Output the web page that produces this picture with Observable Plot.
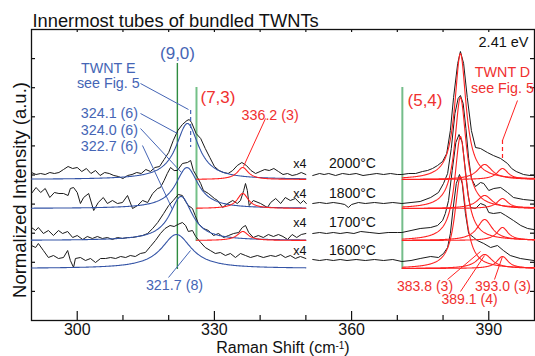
<!DOCTYPE html>
<html><head><meta charset="utf-8">
<script src="https://cdn.jsdelivr.net/npm/d3@7"></script>
<script src="https://cdn.jsdelivr.net/npm/@observablehq/plot@0.6"></script>
<style>
html,body{margin:0;padding:0;background:#fff;}
#chart{width:535px;height:356px;}
</style></head><body><div id="chart"></div>
<script>
// ---------- data ----------
const temps = ["2000°C", "1800°C", "1700°C", "1600°C"];
const baselines = [141, 112, 80, 52];           // vertical offset of each spectrum (a.u.)
const xTicksMajor = [300, 330, 360, 390];
const xTicksAll = [300, 310, 320, 330, 340, 350, 360, 370, 380, 390];
const yTicks = [29.1, 58.2, 87.3, 116.4, 145.5, 174.6, 203.7, 232.8, 261.9];

// measured spectra: [Raman shift, intensity above baseline]
const spec2000L = [[290,7],[291,5],[292,6],[293,5],[294,7],[295,6],[296,7],[297,10],[298,13],[299,11],[300,12],[301,8],[302,11],[303,6],[304,9],[305,4],[306,7],[307,6],[308,4],[309,3],[310,1],[311,4],[312,5],[313,7],[314,6],[315,10],[316,8],[317,12],[318,13],[319,20],[320,27],[321,39],[322,49],[323,55],[324,59],[324.5,60],[325,57],[326,46],[327,41],[328,31],[329,22],[330,13],[331,9],[332,7],[333,6],[334,9],[335,14],[336,17],[337,14],[338,9],[339,6],[340,8],[341,10],[342,9],[343,11],[344,8],[345,5],[346,6],[347,4],[348,5],[349,7],[350,5]];
const spec2000R = [[351.5,4],[353,6],[354,5],[355,6],[356.5,4],[358,6],[359.5,5],[361,6],[362.5,4],[364,5],[365.5,6],[367,5],[368.5,6],[370,5],[371,5],[372.5,6],[374,6],[375.5,8],[376.6,9],[377.7,11],[378.8,14],[379.9,18],[380.8,26],[381.6,49],[382.3,82],[383.2,116],[383.8,128],[384.5,116],[385.3,82],[386.2,49],[387.1,32],[388.2,31],[389.7,27],[391,24],[392.6,21],[394.1,16],[395,11],[396,8],[397.6,5],[399,4],[400,4]];
const spec1800L = [[290,15],[291,21],[292,16],[293,20],[294,11],[295,16],[296,15],[297,15],[298,13],[298.5,20],[299.2,21],[300,16],[300.7,5],[301.4,11],[302.5,15],[303.6,-2],[304.6,6],[305.7,11],[306.6,5],[307.7,8],[308.8,5],[309.9,6],[311,13],[312.1,0],[313.2,3],[314.3,8],[315.4,6],[316.5,15],[317.6,20],[318.2,21],[319,28],[319.7,35],[320.4,41],[321.2,38],[321.9,38],[323,45],[324.1,46],[324.8,48],[325.4,38],[326.3,31],[327,25],[327.6,18],[328.7,15],[330,10],[330.7,8],[331.8,1],[332.9,5],[334,8],[335,5],[335.7,8],[336.4,18],[336.8,25],[337.2,18],[337.6,3],[338.5,8],[340.1,5],[341.6,1],[342.3,6],[343.4,10],[344.5,5],[345.5,11],[346.6,8],[347.7,10],[348.8,5],[349.5,8],[350.1,5]];
const spec1800R = [[351.5,5],[353,6],[354.5,5],[356,6],[357.5,5],[358.5,4],[359.3,1],[360,4],[361.5,6],[363,5],[365,6],[367,5],[369,6],[371,5],[373,6],[375,7],[377.3,11],[379,16],[380.1,25],[381,35],[381.8,60],[382.6,95],[383.3,110],[383.8,113],[384.4,105],[385,80],[385.6,50],[386.2,30],[387.1,22],[388.2,26],[388.9,25],[390,18],[391.1,20],[392.6,21],[394.1,16],[395.4,11],[397.6,9],[399.8,8]];
const spec1700L = [[290,13],[290.9,10],[291.5,13],[292.6,7],[293.7,10],[294.8,5],[295.9,10],[296.8,7],[297.9,9],[299,3],[300,5],[301.2,1],[302.2,4],[303.3,2],[304.4,4],[305.5,2],[306.6,3],[307.7,1],[308.8,3],[309.9,2],[311,3],[312.1,3],[313.2,4],[314.3,5],[315.4,7],[316.5,12],[317.6,18],[318.9,27],[320,35],[321,40],[322.1,46],[323,45],[323.7,39],[324.3,35],[325.2,32],[325.8,25],[326.5,17],[327.6,12],[328.7,10],[329.8,5],[330.9,7],[332,3],[333.1,5],[334.2,7],[335.3,8],[336.1,13],[336.8,15],[337.5,8],[338.5,3],[339.6,5],[340.7,3],[341.8,6],[342.9,4],[344,6],[345,4],[346,1],[347,6],[348,3],[349,6],[350,7]];
const spec1700R = [[351.5,7],[353,8],[354.5,7],[356,8],[357.5,7],[359,8],[360.5,7],[362,9],[364,8],[366,7],[368,8],[370,8],[371,8],[373,10],[375,12],[377.3,13],[378.8,15],[379.9,20],[380.5,27],[381.2,40],[382,70],[382.8,98],[383.5,106],[384.2,98],[384.9,70],[385.5,45],[386,33],[387.1,32],[388.2,37],[389.3,35],[390,28],[391,27],[392.6,28],[393.7,25],[395.4,20],[397,15],[398.5,12],[399.8,11]];
const spec1600L = [[290,23],[290.9,21],[291.5,25],[292.6,18],[293.7,11],[294.8,13],[295.9,10],[297,11],[297.9,18],[298.5,8],[299.2,1],[299.6,10],[300.7,11],[301.8,8],[302.9,10],[304,6],[305.1,10],[306.2,10],[307.3,11],[308.4,10],[309.5,12],[310.6,11],[311.6,13],[312.7,12],[313.8,15],[314.9,16],[316,22],[317.1,28],[318.2,35],[319.2,40],[320.3,43],[321.2,42],[322,44],[323,46],[323.7,43],[324.3,37],[325.2,38],[325.9,32],[327,26],[328,21],[329.1,18],[330.2,15],[331.3,16],[332.4,13],[333.5,15],[334.6,11],[335.7,15],[336.8,13],[337.9,11],[339.4,13],[340.7,11],[342.3,13],[343.4,12],[344.5,14],[345.5,11],[346.6,13],[347.7,10],[348.8,12],[350,10]];
const spec1600R = [[351.5,9],[353,8],[354.5,9],[356,8],[357.5,9],[359,8],[361,9],[363,8],[365,9],[367,8],[369,9],[371,7],[373,8],[375,10],[377.3,12],[379,11],[380.1,15],[381,21],[381.6,35],[382.2,60],[382.9,85],[383.6,94],[384.2,85],[384.9,55],[385.6,35],[386.7,31],[387.5,28],[388.9,25],[390.4,21],[391.9,23],[393.2,18],[394.7,13],[396.9,10],[399.8,8]];

// Lorentzian fit parameters (centre, FWHM, height) per spectrum
const blueCenter = [324.1, 324.0, 322.7, 321.7];
const blueWidth  = [6, 6, 6, 8];
const blueHeight = [56, 41, 44, 34];
const red336Center = 336.2, red336Width = 3;
const red336Height = [12, 15, 9, 0];
const rightCenters = [383.8, 389.1, 393.0];
const rightWidths  = [3, 4, 3];
const rightHeights = [[126, 15, 11], [111, 13, 10], [104, 21, 13], [92, 14, 12]];

// ---------- annotations ----------
const blueLabels = [
  {text: "(9,0)", x: 321.93, y: 267, size: 17, anchor: "middle"},
  {text: "TWNT E", x: 306.8, y: 252, size: 14.3, anchor: "middle"},
  {text: "see Fig. 5", x: 306.8, y: 237, size: 14.3, anchor: "middle"},
  {text: "324.1 (6)", x: 313.3, y: 207, size: 14.3, anchor: "end"},
  {text: "324.0 (6)", x: 313.3, y: 190, size: 14.3, anchor: "end"},
  {text: "322.7 (6)", x: 313.3, y: 174, size: 14.3, anchor: "end"},
  {text: "321.7 (8)", x: 321.27, y: 35, size: 14.3, anchor: "middle"}
];
const redLabels = [
  {text: "(7,3)", x: 326.96, y: 223, size: 17, anchor: "start"},
  {text: "336.2 (3)", x: 335.93, y: 205, size: 14.3, anchor: "start"},
  {text: "TWNT D", x: 393.0, y: 248, size: 14.3, anchor: "middle"},
  {text: "see Fig. 5", x: 393.0, y: 232, size: 14.3, anchor: "middle"},
  {text: "(5,4)", x: 372.23, y: 220, size: 17, anchor: "start"},
  {text: "383.8 (3)", x: 376.06, y: 34, size: 14, anchor: "middle"},
  {text: "393.0 (3)", x: 393.1, y: 34, size: 14, anchor: "middle"},
  {text: "389.1 (4)", x: 385.8, y: 21, size: 14, anchor: "middle"}
];
const blackLabels = [{text: "2.41 eV", x: 398.7, y: 278, size: 14.5, anchor: "end"}];
const tempLabelX = 360.2, tempLabelY = [157, 127, 98, 70], x4LabelX = 348.7;

const blueLeaders = [
  [313.84, 237, 324.33, 211], [313.84, 207, 321.93, 187], [313.84, 192, 322.8, 148],
  [314.27, 175, 320.84, 111], [319.96, 43, 324.77, 70]
];
const redLeaders = [
  [341.17, 202, 336.36, 154], [396.28, 220, 393.0, 180], [380.97, 41, 388.19, 69],
  [383.82, 29, 389.07, 65], [391.25, 41, 393.0, 64]
];
const dashBlue = [324.8, 210, 173];
const dashRed = [393.0, 180, 160];
const greenLines = [
  {x: 321.9, y1: 51, y2: 257, color: "#2e8c40", w: 1.4},
  {x: 326.08, y1: 79, y2: 233, color: "#74c088", w: 2},
  {x: 371.1, y1: 51, y2: 233, color: "#74bd8a", w: 2}
];

// ---------- build ----------
const BLUE = "#3454a6", BLUE_T = "#4565b5", RED = "#ff2222", RED_T = "#f0302f";
const FONT = "'Liberation Sans', Arial, Helvetica, sans-serif";
const specs = [[spec2000L, spec2000R], [spec1800L, spec1800R], [spec1700L, spec1700R], [spec1600L, spec1600R]];
const blackRows = specs.flatMap((pair, i) => pair.flatMap((pts, s) =>
  pts.map(([x, v]) => ({x, y: v + baselines[i], id: temps[i] + s}))));

const lor = (x, c, w, a) => a / (1 + ((x - c) / (w / 2)) ** 2);
const gridL = d3.range(290, 350.001, 0.2);
const grid336 = d3.range(326.08, 350.001, 0.1);
const gridR = d3.range(371.1, 400.001, 0.1);
const blueRows = temps.flatMap((t, i) => gridL.map(x => ({x, y: baselines[i] + lor(x, blueCenter[i], blueWidth[i], blueHeight[i]), id: t})));
const redRows = [];
temps.forEach((t, i) => {
  if (red336Height[i] > 0) grid336.forEach(x => redRows.push({x, y: baselines[i] + lor(x, red336Center, red336Width, red336Height[i]), id: t + "a"}));
  rightCenters.forEach((c, k) => gridR.forEach(x => redRows.push({x, y: baselines[i] + lor(x, c, rightWidths[k], rightHeights[i][k]), id: t + "r" + k})));
});

const pxX = 110 / 503; // data units per pixel on x
const marks = [
  Plot.frame({stroke: "#111", strokeWidth: 1.3}),
  // ticks (inward)
  Plot.ruleX(xTicksAll, {x: d => d, y1: 0, y2: d => xTicksMajor.includes(d) ? 9 : 5, stroke: "#111", strokeWidth: 1.2}),
  Plot.ruleX(xTicksAll, {x: d => d, y1: 288, y2: 291, stroke: "#111", strokeWidth: 1.2}),
  Plot.ruleY(yTicks, {y: d => d, x1: 290, x2: 290 + 4 * pxX, stroke: "#111", strokeWidth: 1.2}),
  Plot.ruleY(yTicks, {y: d => d, x1: 400 - 4 * pxX, x2: 400, stroke: "#111", strokeWidth: 1.2}),
  Plot.axisX({ticks: xTicksMajor, tickSize: 0, tickPadding: 3, fontSize: 16, label: null}),
  // green reference lines
  ...greenLines.map(g => Plot.ruleX([g], {x: "x", y1: "y1", y2: "y2", stroke: g.color, strokeWidth: g.w})),
  // spectra
  Plot.line(blackRows, {x: "x", y: "y", z: "id", stroke: "#1a1a1a", strokeWidth: 1}),
  // fits
  Plot.line(blueRows, {x: "x", y: "y", z: "id", stroke: BLUE, strokeWidth: 1.1}),
  Plot.line(redRows, {x: "x", y: "y", z: "id", stroke: RED, strokeWidth: 1.1}),
  // leaders
  Plot.link(blueLeaders, {x1: d => d[0], y1: d => d[1], x2: d => d[2], y2: d => d[3], stroke: BLUE_T, strokeWidth: 1}),
  Plot.link(redLeaders, {x1: d => d[0], y1: d => d[1], x2: d => d[2], y2: d => d[3], stroke: RED, strokeWidth: 1}),
  Plot.ruleX([dashBlue], {x: d => d[0], y1: d => d[1], y2: d => d[2], stroke: BLUE_T, strokeWidth: 1.2, strokeDasharray: "4,3"}),
  Plot.ruleX([dashRed], {x: d => d[0], y1: d => d[1], y2: d => d[2], stroke: RED, strokeWidth: 1.2, strokeDasharray: "4,3"}),
  // temperature & x4 labels
  Plot.text(temps, {x: tempLabelX, y: (d, i) => tempLabelY[i], text: d => d, fontSize: 14, fill: "#111", lineAnchor: "middle"}),
  Plot.text(temps, {x: x4LabelX, y: (d, i) => tempLabelY[i], text: () => "x4", fontSize: 12.5, fill: "#111", lineAnchor: "middle"}),
  // title & axis labels
  Plot.text(["Innermost tubes of bundled TWNTs"], {frameAnchor: "top-left", text: d => d, dx: 1, dy: -3, lineAnchor: "bottom", textAnchor: "start", fontSize: 18.3, fill: "#111"}),
  Plot.text(["Raman Shift (cm-1)"], {frameAnchor: "bottom", text: d => d, dy: 32.5, lineAnchor: "bottom", textAnchor: "middle", fontSize: 16, fill: "#111"}),
  Plot.text(["Normalized Intensity (a.u.)"], {frameAnchor: "left", text: d => d, dx: -11, dy: 15, rotate: -90, textAnchor: "middle", lineAnchor: "middle", fontSize: 18.5, fill: "#111"})
];
const addLabels = (arr, fill) => arr.forEach(l => marks.push(
  Plot.text([l], {x: "x", y: "y", text: "text", fill, fontSize: l.size, textAnchor: l.anchor, lineAnchor: "middle"})));
addLabels(blueLabels, BLUE_T);
addLabels(redLabels, RED_T);
addLabels(blackLabels, "#111");

const chart = Plot.plot({
  width: 535, height: 356,
  marginLeft: 31, marginRight: 1, marginTop: 29, marginBottom: 36,
  style: {fontFamily: FONT, background: "#fff", color: "#111"},
  x: {domain: [290, 400], axis: null},
  y: {domain: [0, 291], axis: null},
  marks
});
document.getElementById("chart").appendChild(chart);

// superscript for cm^-1
chart.querySelectorAll("text").forEach(t => {
  if (t.textContent === "Raman Shift (cm-1)") {
    t.textContent = "";
    const ns = "http://www.w3.org/2000/svg";
    const a = document.createElementNS(ns, "tspan"); a.textContent = "Raman Shift (cm";
    const b = document.createElementNS(ns, "tspan"); b.textContent = "-1"; b.setAttribute("font-size", "10"); b.setAttribute("dy", "-4.5");
    const c = document.createElementNS(ns, "tspan"); c.textContent = ")"; c.setAttribute("dy", "4.5");
    t.append(a, b, c);
  }
});
</script></body></html>
